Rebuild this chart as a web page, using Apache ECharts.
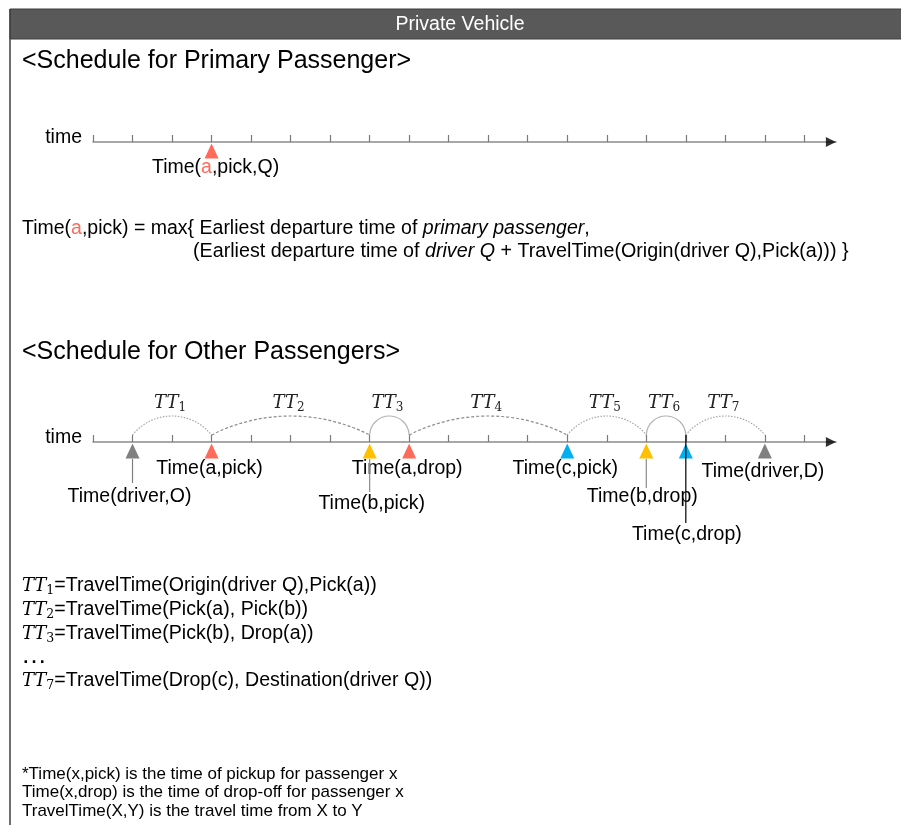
<!DOCTYPE html>
<html><head><meta charset="utf-8">
<script src="https://cdn.jsdelivr.net/npm/echarts@6/dist/echarts.min.js"></script>
<style>html,body{margin:0;padding:0;background:#fff}#c{width:901px;height:825px}</style>
</head><body><div id="c"></div>
<script>
// ---------- data ----------
const tickValues = [0,1,2,3,4,5,6,7,8,9,10,11,12,13,14,15,16,17,18];
const axisEnd = 18.8;
const arrowAt = [18.67];

const primaryLabels = ['Time({r|a},pick,Q)'];
const primaryTimes = [3];
const primaryKinds = ['a'];

const otherLabels = ['Time(driver,O)','Time(a,pick)','Time(b,pick)','Time(a,drop)','Time(c,pick)','Time(b,drop)','Time(c,drop)','Time(driver,D)'];
const otherTimes = [1,3,7,8,12,14,15,17];
const otherKinds = ['driver','a','b','a','c','b','c','driver'];

const legSubs = ['1','2','3','4','5','6','7'];
const legFrom = [1,3,7,8,12,14,15];
const legTo = [3,7,8,12,14,15,17];
const legStyle = ['dotted','dashed','solid','dashed','dotted','solid','dotted'];

const defSubs = ['1','2','3','7'];
const defTexts = ['=TravelTime(Origin(driver Q),Pick(a))','=TravelTime(Pick(a), Pick(b))','=TravelTime(Pick(b), Drop(a))','=TravelTime(Drop(c), Destination(driver Q))'];
const notes = ['*Time(x,pick) is the time of pickup for passenger x','Time(x,drop) is the time of drop-off for passenger x','TravelTime(X,Y) is the travel time from X to Y'];

// ---------- styles / layout ----------
const SANS = 'Liberation Sans, Arial, sans-serif';
const SERIF = 'DejaVu Serif, Liberation Serif, serif';
const RED = '#FF6B5B';
const kindColor = {driver:'#808080', a:RED, b:'#FFC000', c:'#00B0F0'};
const legLine = {
  dotted:{stroke:'#a6a6a6', lineDash:[1.5,1.5]},
  dashed:{stroke:'#8c8c8c', lineDash:[3,2]},
  solid:{stroke:'#b3b3b3', lineDash:null}
};
const otherLabelOffset = [[-3,46],[-2,18],[2,53],[-2,18],[-2,18],[-4,46],[1,84],[-2,21]];
const leaderLayout = {0:{a:17,b:41,c:'#7f7f7f'},2:{a:17,b:50,c:'#8c8c8c'},5:{a:17,b:46,c:'#8c8c8c'},6:{a:-7,b:81,c:'#000'}};
const FS = 19.5;

const chart = echarts.init(document.getElementById('c'), null, {renderer:'canvas'});

function xAxisCfg(gi){
  return {
    type:'value', gridIndex:gi, min:0, max:axisEnd,
    axisLine:{show:true, onZero:true, lineStyle:{color:'#8c8c8c', width:1.5}},
    axisTick:{show:true, inside:true, length:7, customValues:tickValues, lineStyle:{color:'#7a7a7a', width:1.2}},
    axisLabel:{show:false}, splitLine:{show:false},
    name:'time', nameLocation:'start', nameGap:11,
    nameTextStyle:{fontSize:19.5, color:'#000', fontFamily:SANS, verticalAlign:'bottom', lineHeight:8}
  };
}
function yAxisCfg(gi){ return {type:'value', gridIndex:gi, min:-1, max:1, show:false}; }

function markerSeries(gi, times, kinds, labels, offsets){
  return {
    type:'scatter', xAxisIndex:gi, yAxisIndex:gi, z:2,
    symbol:'triangle', symbolSize:[14,15], symbolOffset:[0,9],
    silent:true,
    data: times.map((t,i)=>({
      value:[t,0],
      itemStyle:{color:kindColor[kinds[i]], opacity:1},
      label:{offset:offsets[i], formatter:labels[i]}
    })),
    label:{show:true, position:'inside', fontSize:FS, fontFamily:SANS, color:'#000',
      rich:{r:{color:RED, fontSize:FS, fontFamily:SANS}}}
  };
}
function arrowSeries(gi){
  return {type:'scatter', xAxisIndex:gi, yAxisIndex:gi, z:3, silent:true,
    symbol:'triangle', symbolSize:[10,10], symbolRotate:-90,
    itemStyle:{color:'#000'}, data:arrowAt.map(v=>[v,0])};
}

const graphics = [
  {type:'rect', shape:{x:10,y:9,width:895,height:30}, style:{fill:'#595959', stroke:'#3f3f3f', lineWidth:1}},
  {type:'text', x:460, y:25, style:{text:'Private Vehicle', fill:'#fff', fontSize:19.5, fontFamily:SANS, align:'center', verticalAlign:'middle'}},
  {type:'line', shape:{x1:10,y1:9,x2:10,y2:825}, style:{stroke:'#3f3f3f', lineWidth:1.5}},
  {type:'text', x:22, y:61, style:{text:'<Schedule for Primary Passenger>', fill:'#000', fontSize:25, fontFamily:SANS, verticalAlign:'middle'}},
  {type:'text', x:22, y:229, style:{text:'Time({r|a},pick) = max{ Earliest departure time of {i|primary passenger},', fill:'#000', fontSize:19.5, fontFamily:SANS, verticalAlign:'middle',
    rich:{r:{fill:RED, fontSize:19.5, fontFamily:SANS}, i:{fontStyle:'italic', fontSize:19.5, fontFamily:SANS, fill:'#000'}}}},
  {type:'text', x:193, y:252, style:{text:'(Earliest departure time of {i|driver Q} + TravelTime(Origin(driver Q),Pick(a))) }', fill:'#000', fontSize:19.7, fontFamily:SANS, verticalAlign:'middle',
    rich:{i:{fontStyle:'italic', fontSize:19.7, fontFamily:SANS, fill:'#000'}}}},
  {type:'text', x:22, y:352, style:{text:'<Schedule for Other Passengers>', fill:'#000', fontSize:25, fontFamily:SANS, verticalAlign:'middle'}}
];
const defY = [586,610,634,681];
defSubs.forEach((s,i)=>{
  graphics.push({type:'text', x:22, y:defY[i], style:{
    text:'{t|TT}{s|'+s+'}{n|'+defTexts[i]+'}', verticalAlign:'middle',
    rich:{
      t:{fontFamily:SERIF, fontStyle:'italic', fontSize:18, lineHeight:22, fill:'#000'},
      s:{fontFamily:SERIF, fontSize:12.5, lineHeight:12, verticalAlign:'bottom', fill:'#000'},
      n:{fontFamily:SANS, fontSize:19.6, lineHeight:22, fill:'#000'}
    }}});
});
graphics.push({type:'text', x:21, y:656, style:{text:'…', fill:'#000', fontSize:26, fontFamily:SANS, verticalAlign:'middle'}});
const noteY = [774,792,811];
notes.forEach((n,i)=>graphics.push({type:'text', x:22, y:noteY[i], style:{text:n, fill:'#000', fontSize:17, fontFamily:SANS, verticalAlign:'middle'}}));

const option = {
  animation:false,
  backgroundColor:'#fff',
  grid:[{left:93, width:743, top:100, height:84}, {left:93, width:743, top:400, height:84}],
  xAxis:[xAxisCfg(0), xAxisCfg(1)],
  yAxis:[yAxisCfg(0), yAxisCfg(1)],
  graphic:graphics,
  series:[
    markerSeries(0, primaryTimes, primaryKinds, primaryLabels, [[4,17]]),
    arrowSeries(0),
    markerSeries(1, otherTimes, otherKinds, otherLabels, otherLabelOffset),
    arrowSeries(1),
    {
      type:'custom', xAxisIndex:1, yAxisIndex:1, z:1, silent:true,
      data: legFrom.map((f,i)=>[f, legTo[i], 0]),
      encode:{x:[0,1], y:2},
      renderItem:function(params, api){
        const i = params.dataIndex;
        const p1 = api.coord([api.value(0),0]);
        const p2 = api.coord([api.value(1),0]);
        const y0 = p1[1]-7, h = 19;
        const c = p2[0]-p1[0];
        const r = (c*c/4 + h*h)/(2*h);
        const cx = (p1[0]+p2[0])/2, cy = y0 - h + r;
        const sa = Math.atan2(y0-cy, p1[0]-cx), ea = Math.atan2(y0-cy, p2[0]-cx);
        const ls = legLine[legStyle[i]];
        return {type:'group', children:[
          {type:'arc', shape:{cx:cx, cy:cy, r:r, startAngle:sa, endAngle:ea, clockwise:true},
            style:{fill:null, stroke:ls.stroke, lineWidth:1.2, lineDash:ls.lineDash}},
          {type:'text', style:{x:cx-2, y:y0-h-2, align:'center', verticalAlign:'bottom',
            text:'{t|TT}{s|'+legSubs[i]+'}',
            rich:{
              t:{fontFamily:SERIF, fontStyle:'italic', fontSize:18, lineHeight:21, fill:'#222'},
              s:{fontFamily:SERIF, fontSize:12, lineHeight:12, verticalAlign:'bottom', fill:'#222'}
            }}}
        ]};
      }
    },
    {
      type:'custom', xAxisIndex:1, yAxisIndex:1, z:4, silent:true,
      data: Object.keys(leaderLayout).map(k=>[otherTimes[+k], 0, +k]),
      encode:{x:0, y:1},
      renderItem:function(params, api){
        const k = api.value(2);
        const L = leaderLayout[k];
        const p = api.coord([api.value(0),0]);
        return {type:'line', shape:{x1:p[0], y1:p[1]+L.a, x2:p[0], y2:p[1]+L.b},
          style:{stroke:L.c, lineWidth:1.2}};
      }
    }
  ]
};
chart.setOption(option);
</script></body></html>
